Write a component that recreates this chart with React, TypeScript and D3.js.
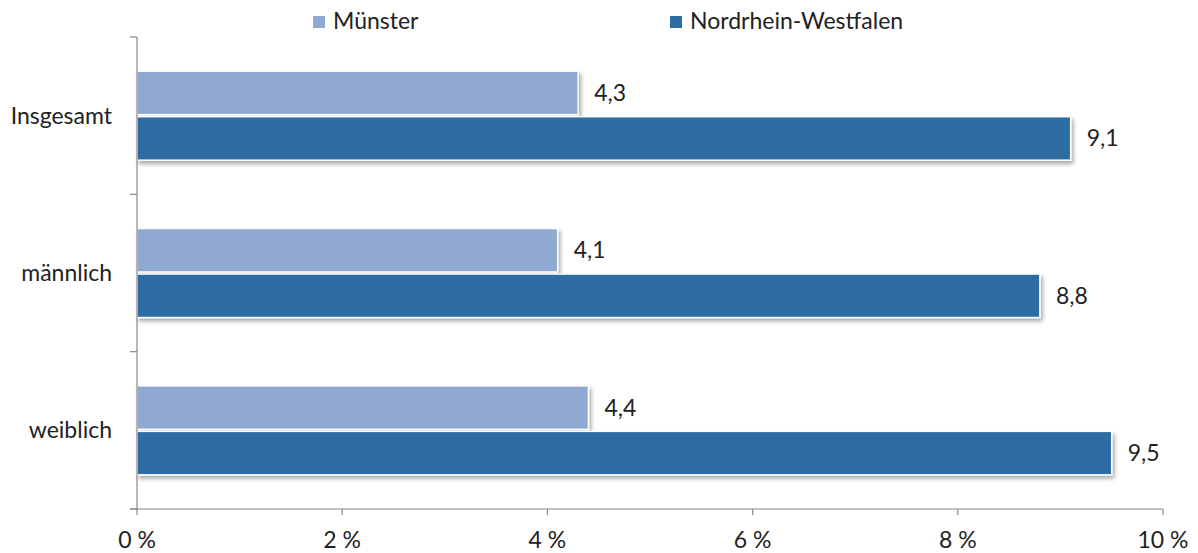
import React from "react";
import * as d3 from "d3";

const categories = ["Insgesamt", "männlich", "weiblich"];
const seriesNames = ["Münster", "Nordrhein-Westfalen"];
const muenster = [4.3, 4.1, 4.4];
const nrw = [9.1, 8.8, 9.5];
const xTicks = [0, 2, 4, 6, 8, 10];
const colors = ["#8FA9D1", "#2E6CA4"];

const W = 1198, H = 553;
const left = 137, right = 1163, top = 37, bottom = 509;

export default function App() {
  const x = d3.scaleLinear().domain([0, 10]).range([left, right]);
  const y = d3.scaleBand().domain(categories).range([top, bottom]).paddingInner(0).paddingOuter(0);
  const inner = d3.scaleBand().domain(seriesNames).range([0, y.bandwidth()]).paddingInner(0.045).paddingOuter(0.75);
  const font = "Lato, 'Open Sans', sans-serif";
  const data = [muenster, nrw];
  const fmt = (v: number) => v.toFixed(1).replace(".", ",");
  const boundaries = categories.map((c) => y(c)!).concat([bottom]);
  const fs = 23;
  return (
    <svg width={W} height={H} style={{ position: "absolute", left: 0, top: 0 }} fontFamily={font}>
      <defs>
        <filter id="sh" x="-5%" y="-20%" width="110%" height="160%">
          <feGaussianBlur in="SourceAlpha" stdDeviation="2" />
          <feOffset dx="2" dy="3" result="b" />
          <feComponentTransfer><feFuncA type="linear" slope="0.35" /></feComponentTransfer>
          <feMerge><feMergeNode /><feMergeNode in="SourceGraphic" /></feMerge>
        </filter>
      </defs>
      <rect width={W} height={H} fill="#fff" />
      {/* legend */}
      <rect x={313} y={16} width={12} height={12} fill={colors[0]} />
      <text x={333} y={29} fontSize={fs} fill="#222">{seriesNames[0]}</text>
      <rect x={670} y={16} width={12} height={12} fill={colors[1]} />
      <text x={690} y={29} fontSize={fs} fill="#222">{seriesNames[1]}</text>
      {/* bars */}
      {categories.map((c, i) => (
        <g key={c}>
          {seriesNames.map((s, j) => {
            const v = data[j][i];
            const by = y(c)! + inner(s)!;
            const bh = inner.bandwidth();
            return (
              <g key={s}>
                <rect x={x(0)} y={by} width={x(v) - x(0)} height={bh} fill={colors[j]} stroke="#fff" strokeWidth={1.5} filter="url(#sh)" />
                <text x={x(v) + 16} y={by + bh / 2 + 8} fontSize={fs} fill="#222">{fmt(v)}</text>
              </g>
            );
          })}
          <text x={112} y={y(c)! + y.bandwidth() / 2 + 8} fontSize={fs} textAnchor="end" fill="#222">{c}</text>
        </g>
      ))}
      {/* axes */}
      <line x1={left} x2={left} y1={top} y2={bottom} stroke="#888" strokeWidth={1.2} />
      {boundaries.map((b, i) => (
        <line key={i} x1={left - 7} x2={left} y1={b} y2={b} stroke="#888" strokeWidth={1.2} />
      ))}
      <line x1={left - 7} x2={right} y1={bottom} y2={bottom} stroke="#888" strokeWidth={1.2} />
      {xTicks.map((t) => (
        <g key={t}>
          <line x1={x(t)} x2={x(t)} y1={bottom} y2={bottom + 6} stroke="#888" strokeWidth={1.2} />
          <text x={x(t)} y={548} fontSize={fs} textAnchor="middle" fill="#222">{`${t} %`}</text>
        </g>
      ))}
    </svg>
  );
}
